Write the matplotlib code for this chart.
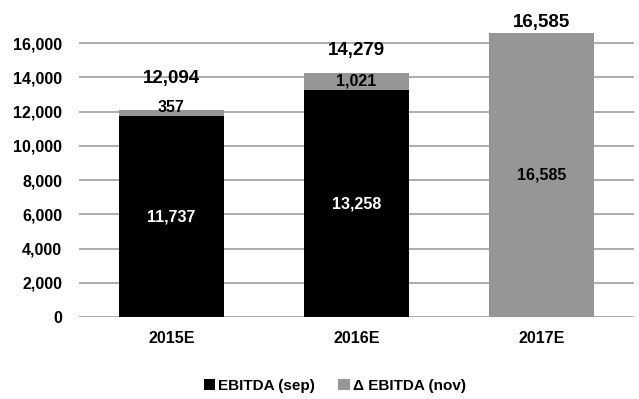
import matplotlib
matplotlib.use("Agg")
import matplotlib.pyplot as plt
from matplotlib import font_manager
from matplotlib.ticker import FuncFormatter

categories = ["2015E", "2016E", "2017E"]
ebitda_sep = [11737, 13258, 0]
delta_nov = [357, 1021, 16585]
totals = [12094, 14279, 16585]

names = {f.name for f in font_manager.fontManager.ttflist}
fam = ["Liberation Sans Narrow", "Liberation Sans", "DejaVu Sans"]
fam = [f for f in fam if f in names] + ["DejaVu Sans"]
plt.rcParams["font.family"] = fam
plt.rcParams["font.weight"] = "bold"

BLACK = "#000000"
GRAY = "#969696"

fig = plt.figure(figsize=(6.39, 3.99), dpi=100)
ax = fig.add_axes([0.1236, 0.2055, 0.8684, 0.729])

x = list(range(len(categories)))
w = 0.57
b1 = ax.bar(x, ebitda_sep, w, color=BLACK, label="EBITDA (sep)", zorder=3)
b2 = ax.bar(x, delta_nov, w, bottom=ebitda_sep, color=GRAY, label="\u0394 EBITDA (nov)", zorder=3)

ax.set_xlim(-0.5, 2.5)
ax.set_ylim(0, 17000)
ax.set_yticks(list(range(0, 16001, 2000)))
ax.yaxis.set_major_formatter(FuncFormatter(lambda v, p: f"{int(v):,}"))
ax.grid(axis="y", color="#a6a6a6", linewidth=1.3, zorder=0)
ax.set_axisbelow(True)
for s in ax.spines.values():
    s.set_visible(False)
ax.tick_params(axis="both", length=0, labelsize=11.5)
ax.tick_params(axis="y", pad=12)
ax.tick_params(axis="x", pad=10)
ax.set_xticks(x)
ax.set_xticklabels(categories, fontsize=11.5, fontweight="bold")
for lab in ax.get_yticklabels():
    lab.set_fontweight("bold")

# segment labels
for i in range(len(categories)):
    if ebitda_sep[i] > 0:
        ax.text(x[i], ebitda_sep[i] / 2, f"{ebitda_sep[i]:,}", ha="center", va="center",
                color="white", fontsize=11.5, fontweight="bold", zorder=4)
    if delta_nov[i] > 0:
        if ebitda_sep[i] > 0:
            yc = ebitda_sep[i] + delta_nov[i] / 2
            ax.annotate(f"{delta_nov[i]:,}", (x[i], yc), xytext=(0, 0 if delta_nov[i] > 500 else 4),
                        textcoords="offset points", ha="center", va="center",
                        color="black", fontsize=11.5, fontweight="bold", zorder=4)
        else:
            ax.text(x[i], delta_nov[i] / 2, f"{delta_nov[i]:,}", ha="center", va="center",
                    color="black", fontsize=11.5, fontweight="bold", zorder=4)

# total labels
offsets = [23, 16, 8]
for i in range(len(categories)):
    ax.annotate(f"{totals[i]:,}", (x[i], totals[i]), xytext=(0, offsets[i]),
                textcoords="offset points", ha="center", va="center",
                fontsize=13.5, fontweight="bold", zorder=4)

leg = fig.legend(handles=[b1, b2], loc="center", bbox_to_anchor=(0.524, 0.033), ncol=2,
                 frameon=False, fontsize=11, handlelength=0.75, handleheight=0.75,
                 handletextpad=0.2, columnspacing=1.5)
for t in leg.get_texts():
    t.set_fontweight("bold")

fig.savefig("out.png", dpi=100)
